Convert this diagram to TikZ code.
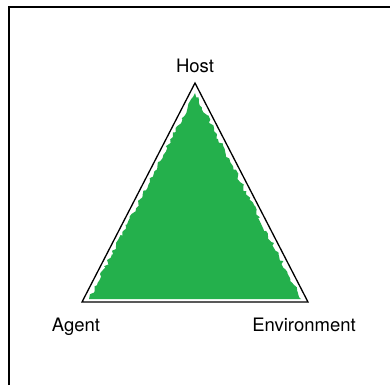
\documentclass[tikz,border=0pt]{standalone}
\usepackage{fontspec}
\setmainfont{TeX Gyre Heros}
\usetikzlibrary{positioning,decorations.pathmorphing}
\definecolor{leafgreen}{RGB}{36,176,76}
\tikzstyle{cornerlabel} = [font=\fontsize{18.5}{22}\selectfont, inner sep=0pt]
\tikzstyle{frameline} = [line width=1.6pt]
\tikzstyle{triangleline} = [line width=1.3pt, line join=miter]

\begin{document}
\begin{tikzpicture}[x=1pt,y=-1pt]
\useasboundingbox (0,0) rectangle (390,385);
% open frame, left and top only
\draw[frameline] (9,385) -- (9,7) -- (390,7);
% corners of the triangle
\coordinate (host) at (195,83);
\coordinate (agent) at (82,302);
\coordinate (env) at (308,302);
% green area, rough along both slopes
\pgfmathsetseed{11}
\fill[leafgreen, decoration={random steps, segment length=3pt, amplitude=1.8pt}]
  (195,93) decorate {-- (89,299)} -- (301,299) decorate {-- (195,93)} -- cycle;
\draw[triangleline] (host) -- (agent) -- (env) -- cycle;
% labels
\node[cornerlabel, above=10pt of host] (hostlabel) {Host};
\node[cornerlabel, below=16pt of agent, xshift=-6pt] (agentlabel) {Agent};
\node[cornerlabel, below=16pt of env, xshift=-4pt] (envlabel) {Environment};
\end{tikzpicture}
\end{document}
